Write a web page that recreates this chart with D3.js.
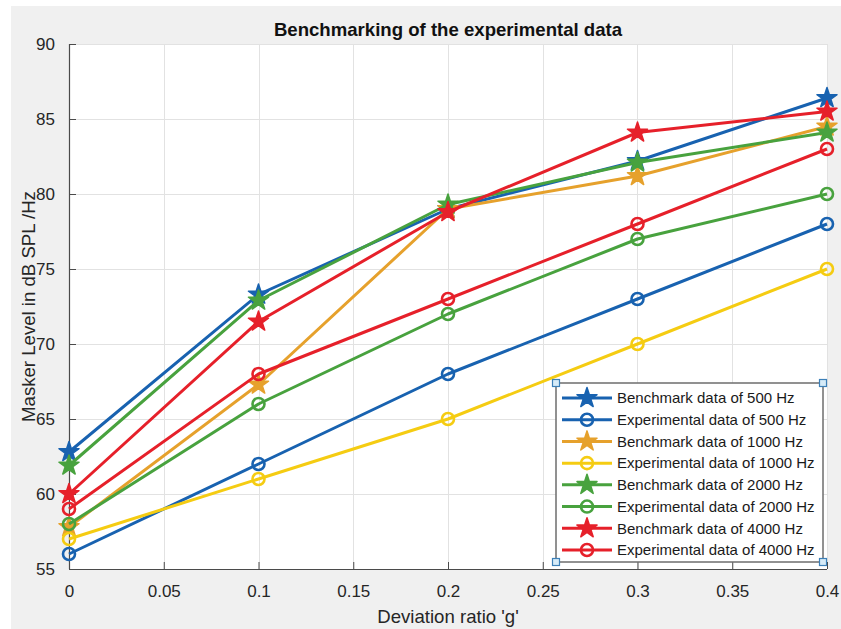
<!DOCTYPE html>
<html>
<head>
<meta charset="utf-8">
<script src="https://cdn.jsdelivr.net/npm/d3@7"></script>
<style>
  html, body { margin: 0; padding: 0; background: #ffffff; }
  svg { display: block; font-family: "Liberation Sans", Arial, Helvetica, sans-serif; }
</style>
</head>
<body>
<svg id="chart" width="841" height="629"></svg>
<script>
// Deviation ratio g
const deviation = [0, 0.1, 0.2, 0.3, 0.4];

// Masker level (dB SPL /Hz) per series
const bench500 = [62.8, 73.3, 79.0, 82.2, 86.4];
const exp500   = [56, 62, 68, 73, 78];
const bench1000 = [57.8, 67.3, 79.0, 81.2, 84.5];
const exp1000   = [57, 61, 65, 70, 75];
const bench2000 = [61.9, 72.9, 79.3, 82.1, 84.1];
const exp2000   = [58, 66, 72, 77, 80];
const bench4000 = [60.0, 71.5, 78.8, 84.1, 85.5];
const exp4000   = [59, 68, 73, 78, 83];

const seriesNames = [
  "Benchmark data of 500 Hz", "Experimental data of 500 Hz",
  "Benchmark data of 1000 Hz", "Experimental data of 1000 Hz",
  "Benchmark data of 2000 Hz", "Experimental data of 2000 Hz",
  "Benchmark data of 4000 Hz", "Experimental data of 4000 Hz"
];
const seriesValues = [bench500, exp500, bench1000, exp1000, bench2000, exp2000, bench4000, exp4000];
const seriesMarkers = ["star", "circle", "star", "circle", "star", "circle", "star", "circle"];
const seriesColors = ["#1862b0", "#1862b0", "#e6a12c", "#f5cc12", "#48a23e", "#48a23e", "#e6202a", "#e6202a"];

const xTicks = [0, 0.05, 0.1, 0.15, 0.2, 0.25, 0.3, 0.35, 0.4];
const yTicks = [55, 60, 65, 70, 75, 80, 85, 90];

const titleText = "Benchmarking of the experimental data";
const xLabelText = "Deviation ratio 'g'";
const yLabelText = "Masker Level in dB SPL /Hz";

const svg = d3.select("#chart");
const W = 841, H = 629;
const plot = { left: 69, right: 827, top: 44, bottom: 569 };

// figure background
svg.append("rect").attr("x", 11).attr("y", 6).attr("width", W - 11).attr("height", H - 6).attr("fill", "#f0f0f0");

const x = d3.scaleLinear().domain([0, 0.4]).range([plot.left, plot.right]);
const y = d3.scaleLinear().domain([55, 90]).range([plot.bottom, plot.top]);

// axes area
svg.append("rect")
  .attr("x", plot.left).attr("y", plot.top)
  .attr("width", plot.right - plot.left).attr("height", plot.bottom - plot.top)
  .attr("fill", "#ffffff");

// grid
const grid = svg.append("g").attr("stroke", "#e2e2e2").attr("stroke-width", 1);
grid.selectAll("line.v").data(xTicks).join("line")
  .attr("x1", d => Math.round(x(d)) + 0.5).attr("x2", d => Math.round(x(d)) + 0.5)
  .attr("y1", plot.top).attr("y2", plot.bottom);
grid.selectAll("line.h").data(yTicks).join("line")
  .attr("y1", d => Math.round(y(d)) + 0.5).attr("y2", d => Math.round(y(d)) + 0.5)
  .attr("x1", plot.left).attr("x2", plot.right);

// axes with inward ticks
const axisColor = "#4a4a4a";
const xAxis = d3.axisBottom(x).tickValues(xTicks).tickSize(-7).tickPadding(16)
  .tickFormat(d => d3.format("~g")(d));
const yAxis = d3.axisLeft(y).tickValues(yTicks).tickSize(-7).tickPadding(14)
  .tickFormat(d3.format("d"));

const gx = svg.append("g").attr("transform", `translate(0,${plot.bottom})`).call(xAxis);
const gy = svg.append("g").attr("transform", `translate(${plot.left},0)`).call(yAxis);
[gx, gy].forEach(g => {
  g.select(".domain").attr("stroke", axisColor).attr("stroke-width", 1.2);
  g.selectAll(".tick line").attr("stroke", axisColor).attr("stroke-width", 1);
  g.selectAll(".tick text").attr("fill", "#262626").attr("font-size", 17)
    .attr("font-family", "'Liberation Sans', Arial, sans-serif");
});
// ticks on the bottom axis of the domain path: remove outer ticks look
gx.select(".domain").attr("d", `M${plot.left},0.5H${plot.right}`);
gy.select(".domain").attr("d", `M0.5,${plot.bottom}V${plot.top}`);

// title and labels
svg.append("text").attr("x", (plot.left + plot.right) / 2).attr("y", 36)
  .attr("text-anchor", "middle").attr("font-size", 18.6).attr("font-weight", "bold")
  .attr("fill", "#111").text(titleText);
svg.append("text").attr("x", (plot.left + plot.right) / 2).attr("y", 623)
  .attr("text-anchor", "middle").attr("font-size", 18.6).attr("fill", "#262626").text(xLabelText);
svg.append("text").attr("transform", `translate(35,${(plot.top + plot.bottom) / 2}) rotate(-90)`)
  .attr("text-anchor", "middle").attr("font-size", 18.6).attr("fill", "#262626").text(yLabelText);

// series
const line = d3.line().x((d, i) => x(deviation[i])).y(d => y(d));
const starPath = d3.symbol().type(d3.symbolStar).size(125)();

function drawMarker(g, kind, color, cx, cy) {
  if (kind === "star") {
    g.append("path").attr("d", starPath).attr("transform", `translate(${cx},${cy})`)
      .attr("fill", color).attr("stroke", color).attr("stroke-width", 1.5)
      .attr("stroke-linejoin", "round");
  } else {
    g.append("circle").attr("cx", cx).attr("cy", cy).attr("r", 6)
      .attr("fill", "none").attr("stroke", color).attr("stroke-width", 2.6);
  }
}

seriesValues.forEach((vals, k) => {
  const g = svg.append("g");
  g.append("path").datum(vals).attr("d", line)
    .attr("fill", "none").attr("stroke", seriesColors[k]).attr("stroke-width", 3)
    .attr("stroke-linejoin", "round");
  vals.forEach((v, i) => drawMarker(g, seriesMarkers[k], seriesColors[k], x(deviation[i]), y(v)));
});

// legend
const lg = { x0: 556, y0: 383, x1: 823, y1: 562 };
const legend = svg.append("g");
legend.append("rect").attr("x", lg.x0).attr("y", lg.y0)
  .attr("width", lg.x1 - lg.x0).attr("height", lg.y1 - lg.y0)
  .attr("fill", "#ffffff").attr("stroke", "#6e6e6e").attr("stroke-width", 1.5);
const rowY = d3.scaleLinear().domain([0, 7]).range([398, 550]);
seriesNames.forEach((name, k) => {
  const ry = rowY(k);
  legend.append("line").attr("x1", 562).attr("x2", 612).attr("y1", ry).attr("y2", ry)
    .attr("stroke", seriesColors[k]).attr("stroke-width", 3);
  drawMarker(legend, seriesMarkers[k], seriesColors[k], 587, ry);
  legend.append("text").attr("x", 617).attr("y", ry + 5.3)
    .attr("font-size", 15).attr("fill", "#1a1a1a").text(name);
});
// selection handles at the legend corners
[[lg.x0, lg.y0], [lg.x1, lg.y0], [lg.x0, lg.y1], [lg.x1, lg.y1]].forEach(([hx, hy]) => {
  legend.append("rect").attr("x", hx - 3.5).attr("y", hy - 3.5).attr("width", 7).attr("height", 7)
    .attr("fill", "#d6ebf8").attr("stroke", "#3d80b8").attr("stroke-width", 1.2);
});
</script>
</body>
</html>
